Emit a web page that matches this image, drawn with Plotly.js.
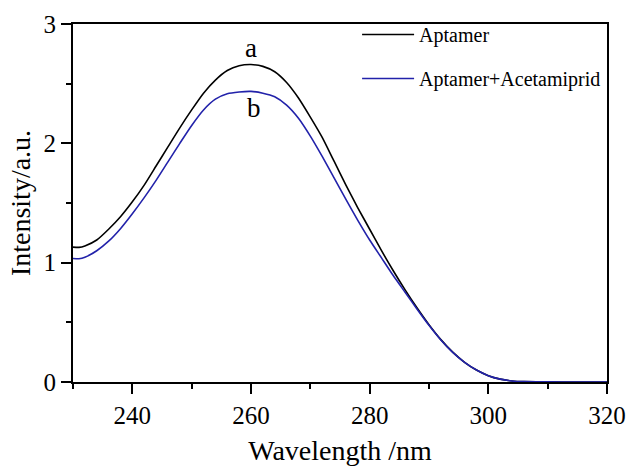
<!DOCTYPE html>
<html>
<head>
<meta charset="utf-8">
<script src="https://cdn.plot.ly/plotly-3.0.1.min.js"></script>
<style>html,body{margin:0;padding:0;background:#fff;}#chart{width:628px;height:467px;}</style>
</head>
<body>
<div id="chart"></div>
<script>
const wavelength = [230,231,232,234,236,238,240,242,244,246,248,250,252,254,256,258,260,262,264,266,268,270,272,274,276,278,280,282,284,286,288,290,292,294,296,298,300,302,304,306,310,315,320];
const aptamer = [1.13,1.128,1.14,1.19,1.28,1.385,1.51,1.65,1.81,1.97,2.13,2.28,2.42,2.53,2.61,2.65,2.66,2.645,2.60,2.51,2.38,2.22,2.05,1.85,1.65,1.46,1.28,1.10,0.93,0.77,0.62,0.48,0.355,0.25,0.165,0.10,0.053,0.024,0.009,0.003,0.001,0,0];
const aptamerAcetamiprid = [1.035,1.033,1.045,1.10,1.18,1.285,1.41,1.545,1.69,1.845,2.00,2.15,2.28,2.37,2.415,2.43,2.435,2.42,2.39,2.32,2.21,2.06,1.89,1.71,1.53,1.355,1.19,1.04,0.89,0.75,0.61,0.475,0.352,0.248,0.164,0.10,0.053,0.024,0.009,0.003,0.001,0,0];
const seriesNames = ["Aptamer","Aptamer+Acetamiprid"];
const curveLabels = ["a","b"];
const labelX = [260, 260.5];
const labelY = [2.80, 2.30];

function serifFont(size) { return {family: "Liberation Serif", size: size, color: "#000000"}; }
const traces = [
  {x: wavelength, y: aptamer, name: seriesNames[0], mode: "lines", legendgroup: "g1",
   line: {color: "#000000", width: 1.6, shape: "spline", smoothing: 0.6}},
  {x: wavelength, y: aptamerAcetamiprid, name: seriesNames[1], mode: "lines", legendgroup: "g2",
   line: {color: "#2222aa", width: 1.6, shape: "spline", smoothing: 0.6}}
];
function axisBase() {
  return {
    showline: true, linecolor: "#000", linewidth: 2, mirror: true,
    ticks: "outside", ticklen: 10, tickwidth: 2, tickcolor: "#000",
    showgrid: false, zeroline: false,
    tickfont: serifFont(25)
  };
}
const layout = {
  width: 628, height: 467,
  margin: {l: 73, r: 21, t: 24, b: 85},
  paper_bgcolor: "#fff", plot_bgcolor: "#fff",
  font: serifFont(20),
  xaxis: Object.assign(axisBase(), {
    range: [230, 320], tick0: 240, dtick: 20,
    minor: {ticks: "outside", ticklen: 5, tickwidth: 2, tickcolor: "#000", dtick: 10, tick0: 230},
    title: {text: "Wavelength /nm", font: serifFont(28), standoff: 12}
  }),
  yaxis: Object.assign(axisBase(), {
    range: [0, 3], dtick: 1,
    minor: {ticks: "outside", ticklen: 5, tickwidth: 2, tickcolor: "#000", dtick: 0.5},
    title: {text: "Intensity/a.u.", font: serifFont(28), standoff: 5}
  }),
  legend: {x: 0.532, y: 1.025, xanchor: "left", yanchor: "top", bgcolor: "rgba(0,0,0,0)",
    itemwidth: 52,
    font: serifFont(20), traceorder: "grouped", tracegroupgap: 15},
  annotations: curveLabels.map((t, i) => ({x: labelX[i], y: labelY[i], xref: "x", yref: "y",
    text: t, showarrow: false, font: serifFont(27)}))
};
Plotly.newPlot("chart", traces, layout, {displayModeBar: false, staticPlot: true});
</script>
</body>
</html>
